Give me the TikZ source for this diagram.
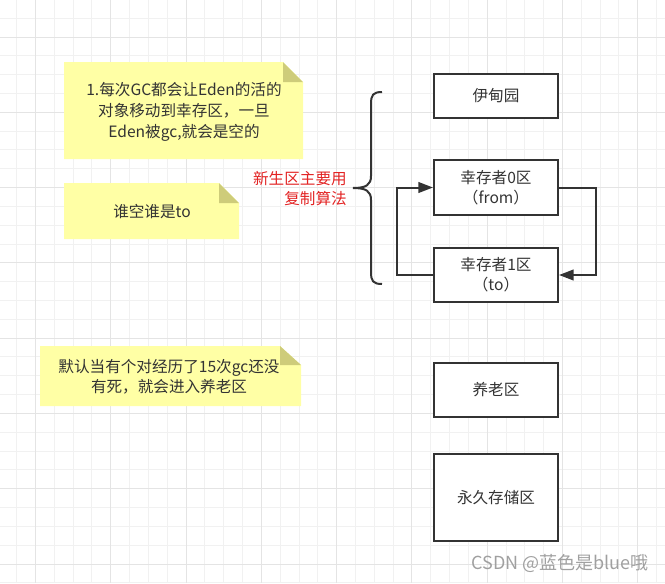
\documentclass[tikz,border=0pt]{standalone}
\usepackage{fontspec}
\setmainfont{Noto Sans CJK SC}
\usepackage{xcolor}
\definecolor{jvmdark}{RGB}{51, 51, 51}
\definecolor{jvmnote}{RGB}{255, 255, 165}
\definecolor{jvmfold}{RGB}{206, 204, 122}
\definecolor{jvmred}{RGB}{226, 35, 35}
\definecolor{jvmgrid}{RGB}{241, 241, 241}
\definecolor{jvmgridmajor}{RGB}{228, 228, 228}
\definecolor{jvmmark}{RGB}{160, 160, 160}
\usetikzlibrary{arrows.meta, positioning}

\begin{document}
\begin{tikzpicture}[x=0.75pt, y=-0.75pt, font=\fontsize{11.7}{15}\selectfont,
    gridline/.style={draw=jvmgrid, line width=0.75pt},
    gridmajor/.style={draw=jvmgridmajor, line width=0.75pt},
    area/.style={rectangle, draw=jvmdark, line width=1.5pt, fill=white, minimum width=93pt, inner sep=0pt, align=center, text=jvmdark},
    notebg/.style={fill=jvmnote},
    notefold/.style={fill=jvmfold},
    notetext/.style={align=center, text=jvmdark, inner sep=0pt},
    brace/.style={draw=jvmdark, line width=1.5pt},
    flow/.style={draw=jvmdark, line width=1.5pt, -{Triangle[length=11pt, width=8pt]}},
    redtext/.style={align=right, text=jvmred, inner sep=0pt}
]
\useasboundingbox (0,0) rectangle (665,583);

% === 背景网格 ===
\foreach \k in {0,...,36} {
    \draw[gridline] ({-2.12+18.82*\k}, 0) -- ++(0, 583);
}
\foreach \k in {0,...,31} {
    \draw[gridline] (0, {-0.6+18.82*\k}) -- ++(665, 0);
}
\foreach \k in {2,6,...,34} {
    \draw[gridmajor] ({-2.12+18.82*\k}, 0) -- ++(0, 583);
}
\foreach \k in {2,6,...,30} {
    \draw[gridmajor] (0, {-0.6+18.82*\k}) -- ++(665, 0);
}

% === 便签 ===
\fill[notebg] (64,62) -- (283,62) -- (303,82) -- (303,159) -- (64,159) -- cycle;
\fill[notefold] (283,62) -- (283,82) -- (303,82) -- cycle;
\node[notetext, font=\fontsize{11.7}{15.5}\selectfont] (note1) at (184,112) {1.每次GC都会让Eden的活的\\对象移动到幸存区，一旦\\Eden被gc,就会是空的};

\fill[notebg] (64,183) -- (219,183) -- (239,203) -- (239,239) -- (64,239) -- cycle;
\fill[notefold] (219,183) -- (219,203) -- (239,203) -- cycle;
\node[notetext] (note2) at (152,212) {谁空谁是to};

\fill[notebg] (40,346) -- (280,346) -- (301,365) -- (301,406) -- (40,406) -- cycle;
\fill[notefold] (280,346) -- (280,365) -- (301,365) -- cycle;
\node[notetext] (note3) at (169,377) {默认当有个对经历了15次gc还没\\有死，就会进入养老区};

% === 内存分区 ===
\node[area, minimum height=33pt] (eden) at (496,96) {伊甸园};
\node[area, minimum height=41.25pt] (from) at (496,187.5) {幸存者0区\\（from）};
\node[area, minimum height=40.5pt] (to) at (496,275) {幸存者1区\\（to）};
\node[area, minimum height=40.5pt] (old) at (496,390) {养老区};
\node[area, minimum height=65.25pt] (perm) at (496,497.5) {永久存储区};

% 新生区大括号
\draw[brace] (382,92) .. controls (373,92) and (371,95) .. (371,104) -- (371,176)
    .. controls (371,185) and (366,188) .. (353,188)
    .. controls (366,188) and (371,191) .. (371,200) -- (371,272)
    .. controls (371,281) and (373,284) .. (382,284);
\node[redtext, anchor=east] (young) at (347,188.5) {新生区主要用\\复制算法};

% 复制来回
\draw[flow] (from.east) -- ++(37,0) |- (to.east);
\draw[flow] (to.west) -- ++(-36,0) |- (from.west);

% 水印
\node[text=jvmmark, font=\fontsize{13.5}{15}\selectfont, anchor=east, inner sep=0pt] (mark) at (649,563) {CSDN @蓝色是blue哦};

\end{tikzpicture}
\end{document}
